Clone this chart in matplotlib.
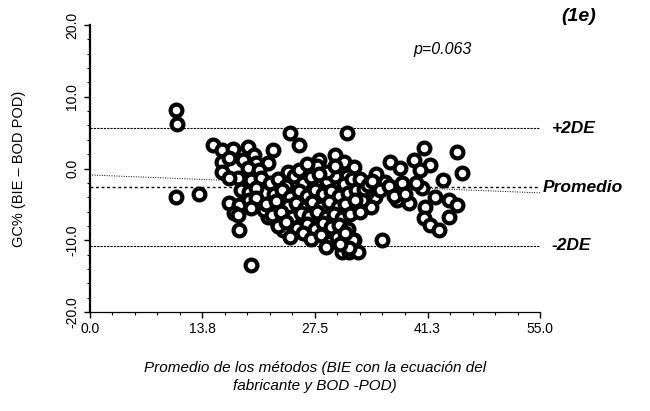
import matplotlib
matplotlib.use("Agg")
import matplotlib.pyplot as plt
import numpy as np
from matplotlib.ticker import MultipleLocator

plt.rcParams['font.family'] = ['Liberation Sans', 'DejaVu Sans']

# mean of both methods (x) and difference in %BF (y)
avg = [10.5, 10.6, 10.5, 13.4,
       15.0, 16.2, 17.5, 19.3, 20.0, 22.4, 24.4, 25.5, 31.4,
       16.2, 17.0, 18.7, 20.3, 21.8, 16.2, 19.3, 20.7,
       18.1, 17.0, 19.7, 20.9, 18.5, 19.4, 20.3,
       17.0, 18.2, 19.4, 20.3, 17.6, 19.7, 18.1, 18.2, 19.7,
       24.2, 26.2, 28.0, 29.9, 31.1, 32.3,
       30.8, 31.7, 32.3, 23.0, 23.6, 22.5, 21.8, 21.3,
       44.9, 40.8, 39.6, 41.6, 36.7, 37.9, 40.3, 45.5, 43.1,
       36.0, 38.1, 40.6, 42.2, 43.9, 44.9,
       37.5, 39.0, 41.0, 40.8, 41.6, 42.7, 43.9,
       34.8, 33.8, 34.4, 33.2, 35.7, 32.2, 32.8, 31.6,
       31.4, 32.0,
       # dense central cloud
       22.0, 23.0, 24.0, 25.0, 26.0, 27.0, 28.0, 29.0, 30.0, 31.0, 32.0,
       22.5, 23.5, 24.5, 25.5, 26.5, 27.5, 28.5, 29.5, 30.5, 31.5, 32.5, 33.5,
       21.5, 22.8, 24.2, 25.2, 26.3, 27.2, 28.3, 29.2, 30.3, 31.2, 32.4,
       22.3, 23.3, 24.7, 25.8, 26.8, 27.8, 28.8, 29.8, 30.8, 31.8, 33.0,
       23.0, 24.0, 25.3, 26.5, 27.5, 28.5, 29.5, 30.5, 31.5,
       24.5, 26.0, 27.0, 28.2, 29.3, 30.2, 31.2,
       25.5, 27.8, 29.0, 30.0, 28.8, 30.6,
       26.5, 28.0, 33.0, 34.0, 35.0, 34.5, 35.5, 36.5, 37.2, 38.5, 39.8]

diff = [8.1, 6.2, -4.0, -3.6,
        3.3, 2.6, 2.7, 3.0, 1.9, 2.6, 4.9, 3.3, 4.9,
        0.9, 1.5, 1.2, 0.8, 0.8, -0.5, 0.1, -0.2,
        -1.3, -1.3, -1.6, -1.3, -3.0, -3.3, -2.7,
        -4.8, -5.1, -4.4, -4.1, -6.2, -5.5, -6.5, -8.6, -13.4,
        -0.5, -0.5, 1.2, 1.9, 0.9, 0.2,
        -11.6, -11.6, -10.0, -7.9, -8.6, -6.9, -6.8, -5.8,
        2.3, 2.9, 1.2, 0.5, 0.9, 0.1, -0.2, -0.6, -1.6,
        -1.9, -2.0, -2.7, -4.0, -4.4, -5.1,
        -4.4, -4.8, -5.4, -6.9, -7.9, -8.6, -6.8,
        -4.0, -3.3, -5.4, -4.4, -10.0, -10.0, -11.6, -11.1,
        -1.0, -2.5,
        -2.0, -1.5, -2.5, -1.0, -2.0, -1.2, -2.5, -1.8, -1.0, -2.2, -1.5,
        -3.5, -3.0, -4.0, -3.2, -3.8, -3.0, -3.6, -3.2, -3.9, -3.4, -3.0, -2.8,
        -5.0, -4.5, -5.2, -4.8, -5.5, -4.6, -5.3, -4.7, -5.4, -5.0, -4.4,
        -6.5, -6.0, -6.8, -6.2, -6.6, -6.0, -6.8, -6.3, -6.9, -6.4, -6.0,
        -8.0, -7.5, -8.3, -7.8, -8.5, -7.6, -8.2, -7.9, -8.4,
        -9.5, -9.0, -9.8, -9.3, -10.2, -9.5, -9.0,
        -0.2, 0.3, -0.5, 0.4, -11.0, -10.5,
        0.6, -0.8, -1.5, -2.3, -0.8, -1.8, -3.0, -2.5, -3.8, -3.5, -2.0]

x_ticks = [0.0, 13.75, 27.5, 41.25, 55.0]
x_tick_labels = ['0.0', '13.8', '27.5', '41.3', '55.0']
y_ticks = [-20, -10, 0, 10, 20]
y_tick_labels = ['-20.0', '-10.0', '0.0', '10.0', '20.0']

mean_diff = -2.6
upper_loa = 5.6
lower_loa = -10.8
reg_start = -0.9   # fitted difference at x = 0
reg_end = -3.4     # fitted difference at x = 55

fig = plt.figure(figsize=(6.5, 4.11), dpi=100)
ax = fig.add_axes([0.138, 0.241, 0.693, 0.698])

ax.scatter(avg, diff, s=72, facecolors='white', edgecolors='black',
           linewidths=3.0, zorder=3)

ax.axhline(upper_loa, color='black', lw=0.8, ls=(0, (2, 1)), zorder=2)
ax.axhline(lower_loa, color='black', lw=0.8, ls=(0, (2, 1)), zorder=2)
ax.axhline(mean_diff, color='black', lw=1.0, ls=(0, (2, 2)), zorder=2)
ax.plot([0, 55], [reg_start, reg_end], color='black', lw=0.7,
        ls=(0, (1, 1.5)), zorder=2)

lab = dict(fontsize=12.5, fontweight='bold', style='italic', va='center',
           ha='left', clip_on=False)
ax.text(56.4, upper_loa, '+2DE', **lab)
ax.text(56.4, lower_loa, '-2DE', **lab)
ax.text(55.3, mean_diff, 'Promedio', **lab)
ax.text(57.6, 21.2, '(1e)', fontsize=14, fontweight='bold', style='italic',
        ha='left', va='center', clip_on=False)
ax.text(39.5, 16.6, 'p=0.063', fontsize=11.5, style='italic', ha='left',
        va='center')

ax.set_xlim(0, 55)
ax.set_ylim(-20, 20)
ax.set_xticks(x_ticks)
ax.set_xticklabels(x_tick_labels, fontsize=10)
ax.set_yticks(y_ticks)
ax.set_yticklabels(y_tick_labels, fontsize=10, rotation=90, va='center')
ax.xaxis.set_minor_locator(MultipleLocator(2.75))
ax.yaxis.set_minor_locator(MultipleLocator(2))
ax.tick_params(axis='both', which='major', length=4, width=1)
ax.tick_params(axis='both', which='minor', length=2.5, width=0.8)

for side in ['top', 'right']:
    ax.spines[side].set_visible(False)
ax.spines['left'].set_linewidth(1.6)
ax.spines['bottom'].set_linewidth(0.9)

ax.set_ylabel('GC% (BIE – BOD POD)', fontsize=10.5, labelpad=28)
ax.set_xlabel('Promedio de los métodos (BIE con la ecuación del\n'
              'fabricante y BOD -POD)', fontsize=11, style='italic',
              labelpad=18, linespacing=1.35)

fig.savefig('out.png', dpi=100)
